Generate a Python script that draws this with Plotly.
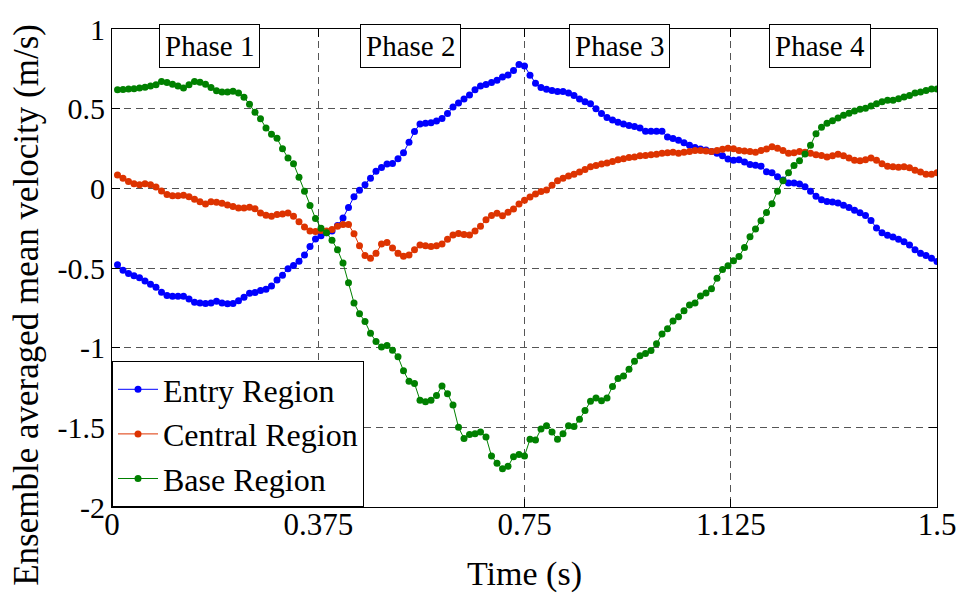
import plotly.graph_objects as go

# Sampling grid (s): 0.01 .. 1.50
time_s = [round(0.01 * k, 2) for k in range(1, 151)]

entry_region = [
    -0.480, -0.514, -0.535, -0.549, -0.561, -0.582, -0.602, -0.621, -0.652, -0.672,
    -0.678, -0.678, -0.678, -0.695, -0.715, -0.719, -0.723, -0.719, -0.709, -0.719,
    -0.725, -0.723, -0.705, -0.684, -0.658, -0.654, -0.641, -0.633, -0.613, -0.576,
    -0.545, -0.504, -0.484, -0.457, -0.418, -0.365, -0.318, -0.298, -0.279, -0.268,
    -0.234, -0.186, -0.121, -0.053, -0.012, 0.023, 0.064, 0.107, 0.131, 0.152,
    0.156, 0.186, 0.223, 0.289, 0.357, 0.404, 0.408, 0.412, 0.422, 0.439,
    0.469, 0.510, 0.535, 0.561, 0.586, 0.619, 0.643, 0.652, 0.664, 0.678,
    0.699, 0.711, 0.740, 0.777, 0.767, 0.710, 0.659, 0.633, 0.622, 0.614,
    0.608, 0.608, 0.598, 0.582, 0.561, 0.543, 0.531, 0.500, 0.469, 0.445,
    0.429, 0.414, 0.404, 0.394, 0.388, 0.378, 0.359, 0.359, 0.359, 0.359,
    0.322, 0.312, 0.302, 0.286, 0.271, 0.257, 0.247, 0.241, 0.231, 0.220,
    0.204, 0.184, 0.176, 0.180, 0.165, 0.149, 0.145, 0.139, 0.104, 0.098,
    0.073, 0.053, 0.033, 0.033, 0.027, 0.010, -0.018, -0.049, -0.071, -0.082,
    -0.086, -0.092, -0.106, -0.120, -0.137, -0.153, -0.171, -0.202, -0.249, -0.278,
    -0.294, -0.306, -0.320, -0.335, -0.355, -0.386, -0.408, -0.422, -0.439, -0.459,
]

central_region = [
    0.084, 0.063, 0.043, 0.029, 0.022, 0.029, 0.022, 0.008, -0.016, -0.039,
    -0.047, -0.047, -0.043, -0.053, -0.069, -0.084, -0.098, -0.084, -0.088, -0.094,
    -0.104, -0.114, -0.124, -0.124, -0.118, -0.128, -0.155, -0.169, -0.175, -0.165,
    -0.161, -0.155, -0.175, -0.210, -0.242, -0.267, -0.271, -0.264, -0.268, -0.258,
    -0.238, -0.227, -0.227, -0.285, -0.361, -0.422, -0.439, -0.408, -0.350, -0.340,
    -0.375, -0.408, -0.426, -0.418, -0.385, -0.355, -0.361, -0.365, -0.361, -0.350,
    -0.320, -0.293, -0.283, -0.289, -0.293, -0.268, -0.238, -0.197, -0.170, -0.156,
    -0.172, -0.150, -0.129, -0.098, -0.075, -0.055, -0.035, -0.020, -0.010, 0.020,
    0.047, 0.063, 0.078, 0.088, 0.102, 0.118, 0.135, 0.143, 0.153, 0.159,
    0.169, 0.180, 0.186, 0.194, 0.196, 0.204, 0.206, 0.210, 0.214, 0.220,
    0.224, 0.227, 0.220, 0.227, 0.231, 0.237, 0.237, 0.235, 0.231, 0.237,
    0.245, 0.251, 0.248, 0.237, 0.235, 0.231, 0.227, 0.237, 0.247, 0.261,
    0.251, 0.237, 0.220, 0.224, 0.231, 0.227, 0.220, 0.210, 0.206, 0.196,
    0.204, 0.214, 0.204, 0.190, 0.176, 0.173, 0.180, 0.190, 0.176, 0.155,
    0.139, 0.135, 0.133, 0.135, 0.129, 0.114, 0.102, 0.088, 0.088, 0.098,
]

base_region = [
    0.619, 0.620, 0.623, 0.625, 0.630, 0.635, 0.643, 0.650, 0.670, 0.664,
    0.654, 0.643, 0.630, 0.650, 0.670, 0.666, 0.654, 0.633, 0.613, 0.605,
    0.605, 0.609, 0.599, 0.572, 0.527, 0.477, 0.436, 0.379, 0.340, 0.314,
    0.248, 0.191, 0.155, 0.069, -0.018, -0.108, -0.189, -0.250, -0.279, -0.326,
    -0.385, -0.469, -0.592, -0.719, -0.787, -0.836, -0.910, -0.961, -0.996, -0.986,
    -1.016, -1.057, -1.145, -1.211, -1.225, -1.330, -1.340, -1.330, -1.300, -1.240,
    -1.290, -1.360, -1.500, -1.570, -1.545, -1.540, -1.530, -1.560, -1.680, -1.725,
    -1.760, -1.745, -1.685, -1.670, -1.680, -1.575, -1.580, -1.510, -1.490, -1.530,
    -1.575, -1.540, -1.490, -1.495, -1.450, -1.395, -1.337, -1.316, -1.333, -1.316,
    -1.244, -1.194, -1.178, -1.136, -1.085, -1.050, -1.037, -1.017, -0.975, -0.915,
    -0.882, -0.833, -0.806, -0.769, -0.733, -0.719, -0.676, -0.657, -0.630, -0.564,
    -0.510, -0.486, -0.455, -0.428, -0.371, -0.304, -0.255, -0.204, -0.151, -0.096,
    -0.018, 0.047, 0.098, 0.143, 0.173, 0.216, 0.271, 0.343, 0.384, 0.408,
    0.424, 0.441, 0.459, 0.471, 0.486, 0.496, 0.502, 0.516, 0.531, 0.543,
    0.553, 0.553, 0.563, 0.573, 0.582, 0.598, 0.604, 0.614, 0.624, 0.624,
]

series_names = ["Entry Region", "Central Region", "Base Region"]
series_colors = ["#0000FF", "#DD3300", "#008000"]

x_tick_vals = [0, 0.375, 0.75, 1.125, 1.5]
x_tick_text = ["0", "0.375", "0.75", "1.125", "1.5"]
y_tick_vals = [1, 0.5, 0, -0.5, -1, -1.5, -2]
y_tick_text = ["1", "0.5", "0", "-0.5", "-1", "-1.5", "-2"]

phase_labels = ["Phase 1", "Phase 2", "Phase 3", "Phase 4"]
phase_x = [0.178, 0.542, 0.922, 1.288]
phase_y = 0.895

y_title = "Ensemble averaged mean velocity (m/s)"

FONT = "Liberation Serif, Times New Roman, serif"

fig = go.Figure()
for name, vals, col in zip(series_names, [entry_region, central_region, base_region], series_colors):
    fig.add_trace(go.Scatter(
        x=time_s, y=vals, name=name, mode="lines+markers",
        line=dict(color=col, width=1),
        marker=dict(color=col, size=7),
    ))

for lab, px in zip(phase_labels, phase_x):
    fig.add_annotation(
        x=px, y=phase_y, xref="x", yref="y", text=lab, showarrow=False,
        font=dict(family=FONT, size=29, color="black"),
        bordercolor="black", borderwidth=1, borderpad=5, bgcolor="white",
    )

# y-axis title as a rotated annotation (placed like the reference)
fig.add_annotation(
    x=-0.1036, y=0.422, xref="paper", yref="paper", text=y_title,
    textangle=-90, showarrow=False, xanchor="center", yanchor="middle",
    font=dict(family=FONT, size=35, color="black"),
)

axis_common = dict(
    showline=True, linecolor="black", linewidth=1, mirror="ticks",
    ticks="inside", ticklen=8, tickcolor="black",
    showgrid=True, gridcolor="#555555", gridwidth=1, griddash="7px,5px",
    zeroline=False,
)

fig.update_xaxes(
    range=[0, 1.5], tickvals=x_tick_vals, ticktext=x_tick_text,
    tickfont=dict(family=FONT, size=31, color="black"),
    ticklabelstandoff=-10,
    title=dict(text="Time (s)", font=dict(family=FONT, size=34, color="black"), standoff=19),
    **axis_common,
)
fig.update_yaxes(
    range=[-2, 1], tickvals=y_tick_vals, ticktext=y_tick_text,
    tickfont=dict(family=FONT, size=30, color="black"),
    **axis_common,
)

fig.update_layout(
    width=968, height=598,
    margin=dict(l=112, r=26, t=21, b=91),
    paper_bgcolor="white", plot_bgcolor="white",
    font=dict(family=FONT, color="black"),
    showlegend=True,
    legend=dict(
        x=0, y=0, xanchor="left", yanchor="bottom",
        bgcolor="white", bordercolor="black", borderwidth=1,
        font=dict(family=FONT, size=32, color="black"),
        tracegroupgap=0, itemwidth=40,
    ),
)

fig.write_html("out.html")
